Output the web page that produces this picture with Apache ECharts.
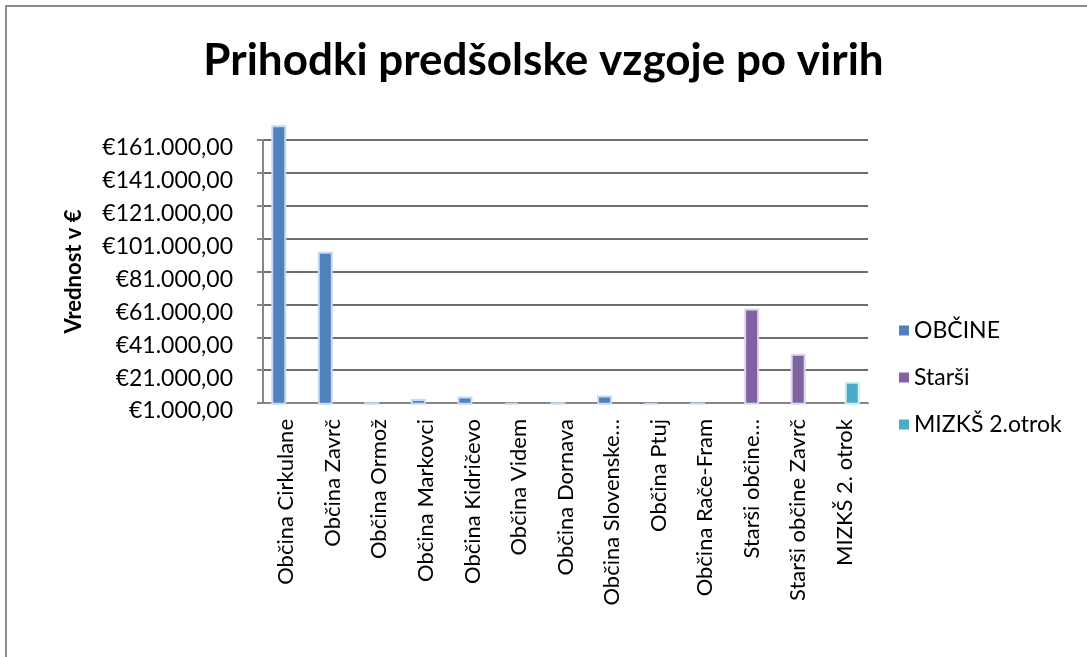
<!DOCTYPE html>
<html>
<head>
<meta charset="utf-8">
<script src="https://cdn.jsdelivr.net/npm/echarts@6/dist/echarts.min.js"></script>
<style>
  html, body { margin: 0; padding: 0; background: #fff; }
  #main { width: 1087px; height: 657px; }
</style>
</head>
<body>
<div id="main"></div>
<script>
const categories = [
  'Občina Cirkulane', 'Občina Zavrč', 'Občina Ormož', 'Občina Markovci',
  'Občina Kidričevo', 'Občina Videm', 'Občina Dornava', 'Občina Slovenske…',
  'Občina Ptuj', 'Občina Rače-Fram', 'Starši občine…', 'Starši občine Zavrč',
  'MIZKŠ 2. otrok'
]
// '-' = no bar for that series in that category
const obcine = [170000, 93000, 1500, 3500, 5000, 1200, 1500, 5500, 1200, 1300, '-', '-', '-']
const starsi = ['-', '-', '-', '-', '-', '-', '-', '-', '-', '-', 58500, 31000, '-']
const mizks = ['-', '-', '-', '-', '-', '-', '-', '-', '-', '-', '-', '-', 14000]

const font = 'Lato, "Noto Sans", sans-serif'

function fmtEur(v) {
  let s = Math.round(v).toString().replace(/\B(?=(\d{3})+(?!\d))/g, '.')
  return '€' + s + ',00'
}

function barSeries(name, data, color, edge) {
  return {
    name: name,
    type: 'bar',
    data: data,
    barWidth: 15,
    barGap: '-50%',
    clip: false,
    itemStyle: { color: color, borderColor: edge, borderWidth: 2 }
  }
}

let myChart = echarts.init(document.getElementById('main'))
myChart.setOption({
  animation: false,
  graphic: [{
    type: 'rect',
    shape: { x: 6, y: 6, width: 1200, height: 800 },
    style: { fill: 'none', stroke: '#8c8c8c', lineWidth: 2 },
    silent: true
  }],
  title: {
    text: 'Prihodki predšolske vzgoje po virih',
    left: 'center',
    top: 34,
    textStyle: { fontFamily: font, fontSize: 44, fontWeight: 'bold', color: '#000' }
  },
  legend: {
    orient: 'vertical',
    left: 894,
    top: 314,
    itemWidth: 10,
    itemHeight: 10,
    itemGap: 24,
    icon: 'rect',
    textStyle: { fontFamily: font, fontSize: 23, color: '#000' },
    data: [
      { name: 'OBČINE', itemStyle: { color: '#4F81BD', borderWidth: 0 } },
      { name: 'Starši', itemStyle: { color: '#8064A2', borderWidth: 0 } },
      { name: 'MIZKŠ 2.otrok', itemStyle: { color: '#4BACC6', borderWidth: 0 } }
    ]
  },
  grid: { left: 263, right: 219, top: 140, bottom: 254 },
  xAxis: {
    type: 'category',
    data: categories,
    axisLine: { lineStyle: { color: '#868686', width: 2 } },
    axisTick: { show: false },
    axisLabel: {
      rotate: 90,
      margin: 16,
      interval: 0,
      fontFamily: font,
      fontSize: 22,
      color: '#000'
    }
  },
  yAxis: {
    type: 'value',
    min: 1000,
    max: 161000,
    interval: 20000,
    name: 'Vrednost v €',
    nameLocation: 'middle',
    nameGap: 178,
    nameTextStyle: { fontFamily: font, fontSize: 22, fontWeight: 'bold', color: '#000' },
    axisLine: { show: true, lineStyle: { color: '#868686', width: 2 } },
    axisTick: { show: true, length: 6, lineStyle: { color: '#868686', width: 2 } },
    splitLine: { lineStyle: { color: '#6e6e6e', width: 2 } },
    axisLabel: {
      margin: 30,
      verticalAlign: 'top',
      lineHeight: 16,
      fontFamily: font,
      fontSize: 23,
      color: '#000',
      formatter: fmtEur
    }
  },
  series: [
    barSeries('OBČINE', obcine, '#4F81BD', '#c6d9f1'),
    barSeries('Starši', starsi, '#8064A2', '#e0d6ee'),
    barSeries('MIZKŠ 2.otrok', mizks, '#4BACC6', '#d2eef5')
  ]
})
</script>
</body>
</html>
